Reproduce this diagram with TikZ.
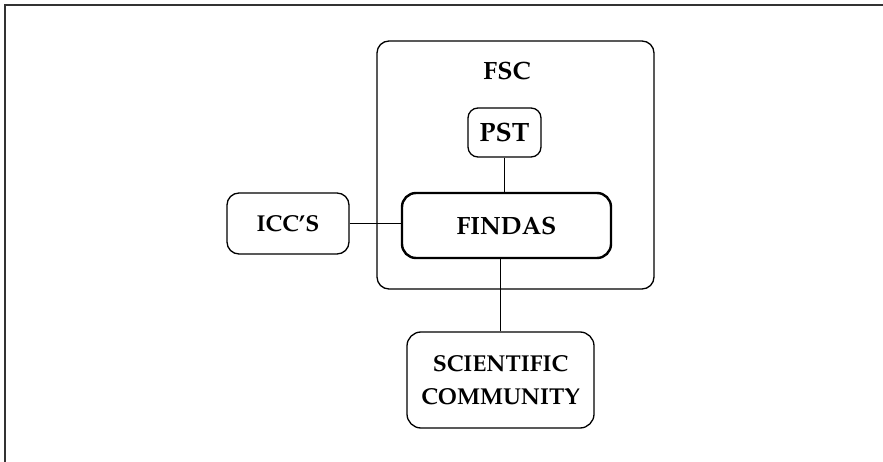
\documentclass[tikz,border=0pt]{standalone}
\usepackage[T1]{fontenc}
\renewcommand{\rmdefault}{ppl}
\begin{document}
\begin{tikzpicture}[x=1pt,y=-1pt,
  box/.style={draw=black, line width=1.3pt, rounded corners=12pt, inner sep=0pt,
    align=center, font=\fontsize{23}{33}\selectfont\bfseries},
  mainbox/.style={box, line width=2.4pt, rounded corners=14pt,
    font=\fontsize{25}{30}\selectfont\bfseries},
  link/.style={draw=black, line width=1.2pt}]
  \useasboundingbox (0,0) rectangle (883,462);
  % open frame: top and left rules
  \draw[line width=1.2pt, black!80] (883,5) -- (5,5) -- (5,462);

  % enclosing FSC group
  \node[box, minimum width=277pt, minimum height=248pt] (fsc) at (515.5,165) {};
  \node[font=\fontsize{25}{28}\selectfont\bfseries, inner sep=0pt] (fsclabel) at (507,71) {FSC};

  \node[box, rounded corners=10pt, minimum width=73pt, minimum height=49pt,
    font=\fontsize{26.5}{30}\selectfont\bfseries] (pst) at (504.5,132.5) {PST};
  \node[mainbox, minimum width=209pt, minimum height=65pt] (findas) at (506.5,225.5) {FINDAS};
  \node[box, minimum width=122pt, minimum height=61pt] (icc) at (288,223.5) {ICC'S};
  \node[box, rounded corners=14pt, minimum width=187pt, minimum height=96pt] (sci) at (500.5,380) {SCIENTIFIC\\COMMUNITY};

  \draw[link] (pst.south) -- (pst.south |- findas.north);
  \draw[link] (icc.east) -- (icc.east -| findas.west);
  \draw[link] (sci.north) -- (sci.north |- findas.south);
\end{tikzpicture}
\end{document}
